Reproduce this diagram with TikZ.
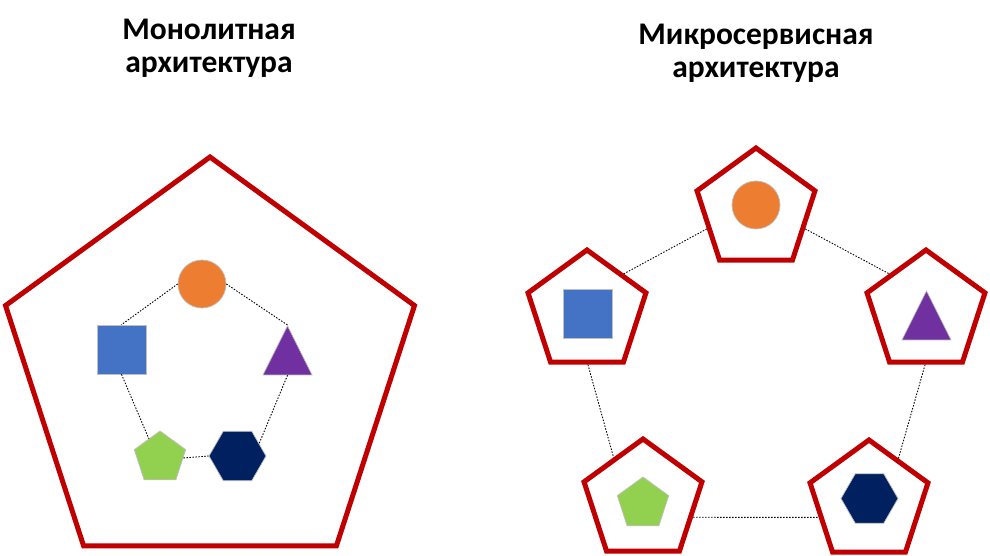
\documentclass[tikz,border=0pt]{standalone}
\usepackage{fontspec}
\setmainfont{Carlito}
\usetikzlibrary{shapes.geometric}
\definecolor{shellred}{RGB}{192,0,0}
\definecolor{svcorange}{RGB}{237,125,49}
\definecolor{svcblue}{RGB}{68,114,196}
\definecolor{svcpurple}{RGB}{112,48,160}
\definecolor{svcgreen}{RGB}{146,208,80}
\definecolor{svcnavy}{RGB}{0,32,96}

\begin{document}
\begin{tikzpicture}[x=1pt, y=-1pt,
    shell/.style={regular polygon, regular polygon sides=5, draw=shellred, line width=5pt, inner sep=0pt},
    piece/.style={draw=black!25, line width=0.7pt, inner sep=0pt},
    ball/.style={piece, circle, fill=svcorange, minimum size=48},
    cube/.style={piece, rectangle, fill=svcblue, minimum size=49},
    spike/.style={piece, isosceles triangle, isosceles triangle stretches, shape border rotate=90, fill=svcpurple, minimum width=49, minimum height=49, anchor=apex},
    penta/.style={piece, regular polygon, regular polygon sides=5, fill=svcgreen, minimum size=54},
    hexa/.style={piece, regular polygon, regular polygon sides=6, fill=svcnavy, minimum size=57},
    link/.style={line width=0.9pt, dash pattern=on 1.5pt off 1.5pt},
    heading/.style={font=\bfseries\fontsize{31.5}{33}\selectfont, align=center, inner sep=0pt}]
    \useasboundingbox (0,0) rectangle (990,556);

    % Titles
    \node[heading] (monotitle) at (209,48) {Монолитная\\архитектура};
    \node[heading] (svctitle) at (756,53) {Микросервисная\\архитектура};

    % Monolith
    \node[shell, minimum size=430] (mono) at (210,372) {};
    \node[ball] (mcirc) at (202,284) {};
    \node[cube] (msq) at (121.5,349.5) {};
    \node[spike] (mtri) at (287.5,325) {};
    \node[penta] (mpent) at (160,458) {};
    \node[hexa] (mhex) at (237.5,456) {};

    \draw[link] (mcirc.west) -- (msq.north);
    \draw[link] (mcirc.east) -- (mtri.apex);
    \draw[link] (msq.south) -- (mpent.120);
    \draw[link] (mtri.lower side) -- (mhex.30);
    \draw[link] (mpent.east) -- (mhex.west);

    % Microservices
    \node[shell, minimum size=124] (stop) at (756,210) {};
    \node[shell, minimum size=124] (sleft) at (587,312) {};
    \node[shell, minimum size=124] (sright) at (926,312) {};
    \node[shell, minimum size=124] (sbl) at (643,501) {};
    \node[shell, minimum size=124] (sbr) at (869,502) {};

    \node[ball] (scirc) at (756,205) {};
    \node[cube] (ssq) at (587.5,313.5) {};
    \node[spike] (stri) at (926.5,290) {};
    \node[penta] (spent) at (643,504) {};
    \node[hexa] (shex) at (869.5,498.5) {};

    \draw[link] (stop.201) -- (sleft.46);
    \draw[link] (stop.-21) -- (sright.134);
    \draw[link] (sleft.-89) -- (sbl.124);
    \draw[link] (sright.-91) -- (sbr.56);
    \draw[link] (sbl.-18) -- (sbr.197);
\end{tikzpicture}
\end{document}
